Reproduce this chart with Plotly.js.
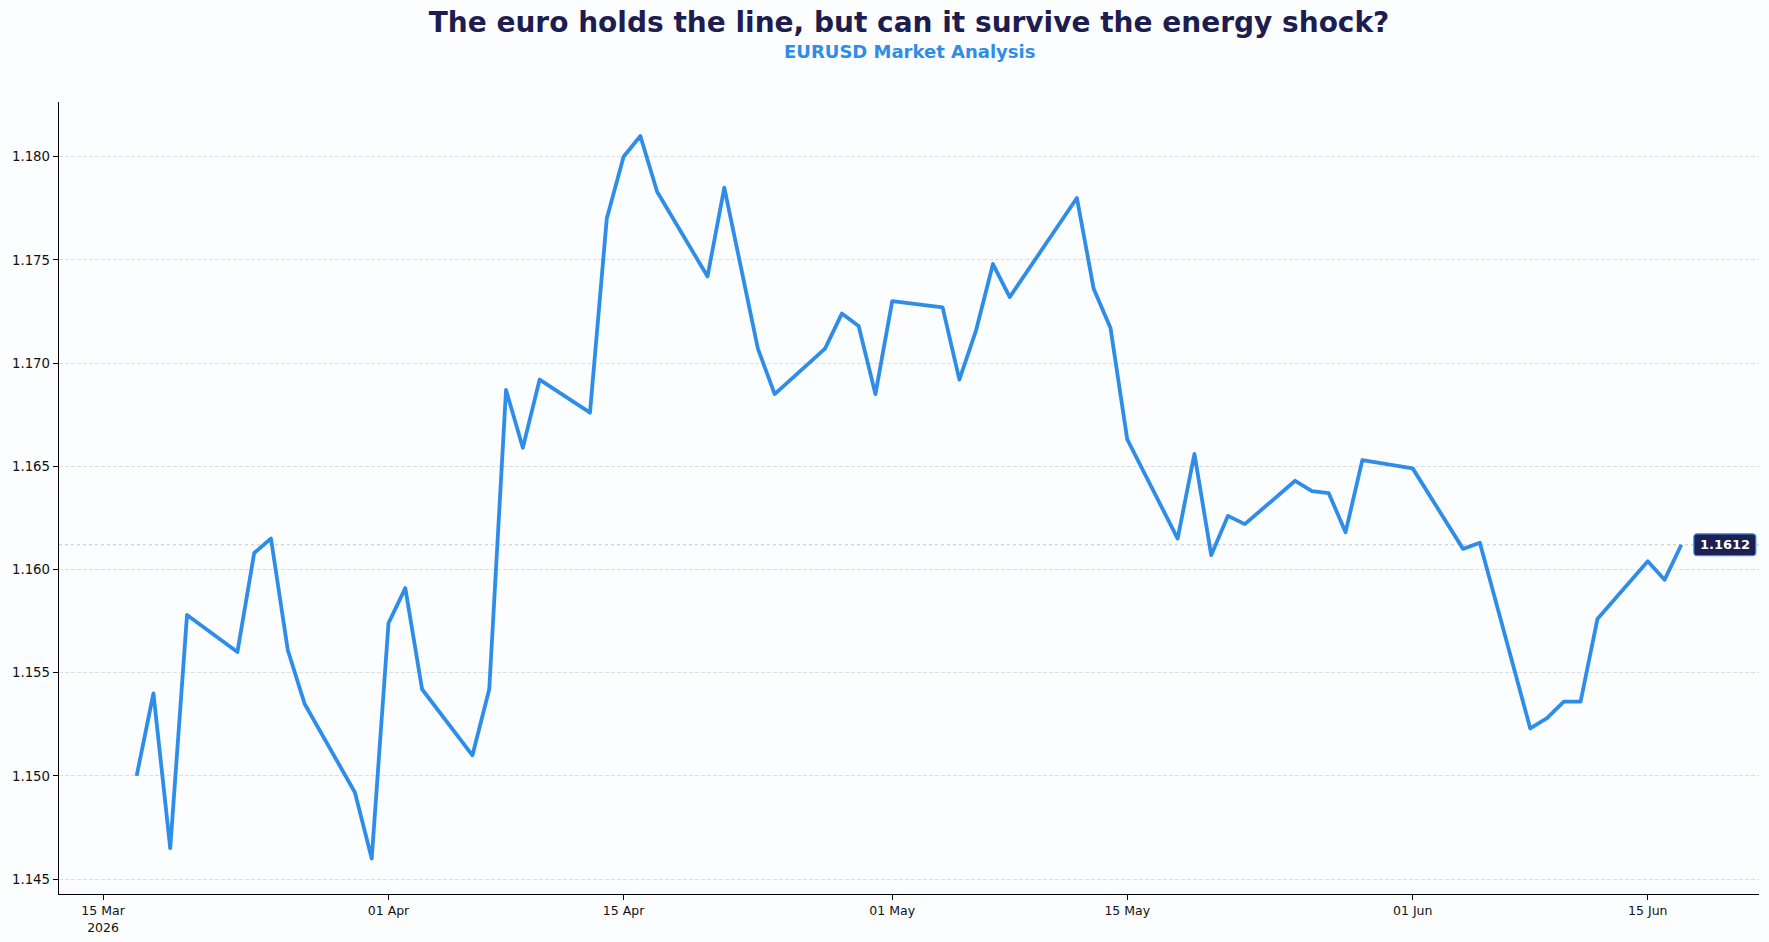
<!DOCTYPE html>
<html>
<head>
<meta charset="utf-8">
<script src="https://cdn.plot.ly/plotly-3.0.1.min.js"></script>
<style>
  html, body { margin: 0; padding: 0; background: #fcfdff; }
  #chart { width: 1769px; height: 942px; }
  .scatterlayer .js-line { stroke-linejoin: round; }
</style>
</head>
<body>
<div id="chart"></div>
<script>
// ---- data ----
const dates = [
  '2026-03-17','2026-03-18','2026-03-19','2026-03-20',
  '2026-03-23','2026-03-24','2026-03-25','2026-03-26','2026-03-27',
  '2026-03-30','2026-03-31','2026-04-01','2026-04-02','2026-04-03',
  '2026-04-06','2026-04-07','2026-04-08','2026-04-09','2026-04-10',
  '2026-04-13','2026-04-14','2026-04-15','2026-04-16','2026-04-17',
  '2026-04-20','2026-04-21','2026-04-23','2026-04-24',
  '2026-04-27','2026-04-28','2026-04-29','2026-04-30','2026-05-01',
  '2026-05-04','2026-05-05','2026-05-06','2026-05-07','2026-05-08',
  '2026-05-11','2026-05-12','2026-05-13','2026-05-14','2026-05-15',
  '2026-05-18','2026-05-19','2026-05-20','2026-05-21','2026-05-22',
  '2026-05-25','2026-05-26','2026-05-27','2026-05-28','2026-05-29',
  '2026-06-01','2026-06-04','2026-06-05',
  '2026-06-08','2026-06-09','2026-06-10','2026-06-11','2026-06-12',
  '2026-06-15','2026-06-16','2026-06-17'
];
const eurusd = [
  1.1500, 1.1540, 1.1465, 1.1578,
  1.1560, 1.1608, 1.1615, 1.1561, 1.1535,
  1.1492, 1.1460, 1.1574, 1.1591, 1.1542,
  1.1510, 1.1542, 1.1687, 1.1659, 1.1692,
  1.1676, 1.1770, 1.1800, 1.1810, 1.1783,
  1.1742, 1.1785, 1.1707, 1.1685,
  1.1707, 1.1724, 1.1718, 1.1685, 1.1730,
  1.1727, 1.1692, 1.1716, 1.1748, 1.1732,
  1.1768, 1.1780, 1.1736, 1.1717, 1.1663,
  1.1615, 1.1656, 1.1607, 1.1626, 1.1622,
  1.1643, 1.1638, 1.1637, 1.1618, 1.1653,
  1.1649, 1.1610, 1.1613,
  1.1523, 1.1528, 1.1536, 1.1536, 1.1576,
  1.1604, 1.1595, 1.1612
];
const xTickVals = ['2026-03-15','2026-04-01','2026-04-15','2026-05-01','2026-05-15','2026-06-01','2026-06-15'];
const xTickText = ['15 Mar<br>2026','01 Apr','15 Apr','01 May','15 May','01 Jun','15 Jun'];
const yTickVals = [1.145, 1.150, 1.155, 1.160, 1.165, 1.170, 1.175, 1.180];

const titleText = 'The euro holds the line, but can it survive the energy shock?';
const subtitleText = 'EURUSD Market Analysis';

// ---- chart ----
const lastX = dates[dates.length - 1];
const lastY = eurusd[eurusd.length - 1];
const lineColor = '#2e8de8';

const trace = {
  x: dates, y: eurusd, type: 'scatter', mode: 'lines',
  line: { color: lineColor, width: 3.8 },
  hoverinfo: 'skip'
};

// rounded label box (pixel-sized, anchored at the last point)
const bx0 = 12.5, bx1 = 74.5, bh = 10.9, r = 3.5;
const boxPath =
  'M' + (bx0 + r) + ',' + (-bh) +
  ' L' + (bx1 - r) + ',' + (-bh) +
  ' Q' + bx1 + ',' + (-bh) + ' ' + bx1 + ',' + (-bh + r) +
  ' L' + bx1 + ',' + (bh - r) +
  ' Q' + bx1 + ',' + bh + ' ' + (bx1 - r) + ',' + bh +
  ' L' + (bx0 + r) + ',' + bh +
  ' Q' + bx0 + ',' + bh + ' ' + bx0 + ',' + (bh - r) +
  ' L' + bx0 + ',' + (-bh + r) +
  ' Q' + bx0 + ',' + (-bh) + ' ' + (bx0 + r) + ',' + (-bh) + ' Z';

const layout = {
  width: 1769, height: 942,
  paper_bgcolor: '#fcfdff', plot_bgcolor: '#fcfdff',
  font: { family: 'DejaVu Sans, sans-serif', color: '#111111' },
  margin: { l: 59, r: 10, t: 102, b: 48 },
  showlegend: false,
  title: {
    text: '<b>' + titleText + '</b>',
    font: { size: 28, color: '#1d1d4f', family: 'DejaVu Sans, sans-serif' },
    x: 0.5, xref: 'paper', xanchor: 'center',
    y: 1 - 22.5 / 942, yref: 'container', yanchor: 'middle'
  },
  xaxis: {
    type: 'date',
    range: ['2026-03-12 09:00', '2026-06-21 15:00'],
    tickmode: 'array', tickvals: xTickVals, ticktext: xTickText,
    ticks: 'outside', ticklen: 5, tickwidth: 1, tickcolor: '#000',
    showline: true, linecolor: '#000', linewidth: 1.3,
    showgrid: false, zeroline: false,
    tickfont: { size: 12.5, color: '#111' }
  },
  yaxis: {
    range: [1.14428, 1.18265],
    tickmode: 'array', tickvals: yTickVals, tickformat: '.3f',
    ticks: 'outside', ticklen: 5, tickwidth: 1, tickcolor: '#000',
    showline: true, linecolor: '#000', linewidth: 1.3,
    showgrid: true, gridcolor: '#dedfe3', gridwidth: 1, griddash: '4px,2px',
    zeroline: false,
    tickfont: { size: 13.3, color: '#111' }
  },
  shapes: [
    {
      type: 'line', xref: 'paper', x0: 0, x1: 1, yref: 'y', y0: lastY, y1: lastY,
      line: { color: '#c4c6cc', width: 1, dash: 'dot' }, layer: 'below'
    },
    {
      type: 'path', xref: 'x', yref: 'y',
      xsizemode: 'pixel', ysizemode: 'pixel',
      xanchor: lastX, yanchor: lastY,
      path: boxPath,
      fillcolor: '#1b2152', line: { color: '#3a8fe0', width: 1.2 },
      layer: 'above'
    }
  ],
  annotations: [
    {
      text: '<b>' + subtitleText + '</b>',
      xref: 'paper', x: 0.5, xanchor: 'center',
      yref: 'paper', y: (894.3 - 51.5) / 792.6, yanchor: 'middle',
      showarrow: false,
      font: { size: 18, color: '#2e8de8', family: 'DejaVu Sans, sans-serif' }
    },
    {
      text: '<b>' + lastY.toFixed(4) + '</b>',
      x: lastX, y: lastY, xref: 'x', yref: 'y',
      xanchor: 'center', yanchor: 'middle', xshift: (bx0 + bx1) / 2, yshift: 0,
      showarrow: false,
      font: { size: 13, color: '#ffffff', family: 'DejaVu Sans, sans-serif' }
    }
  ]
};

Plotly.newPlot('chart', [trace], layout, { displayModeBar: false, staticPlot: true });
</script>
</body>
</html>
